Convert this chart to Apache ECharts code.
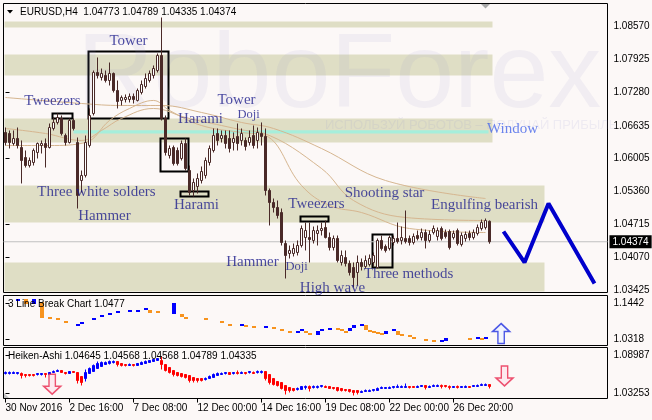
<!DOCTYPE html>
<html><head><meta charset="utf-8">
<script src="https://cdn.jsdelivr.net/npm/echarts@6/dist/echarts.min.js"></script>
<style>html,body{margin:0;padding:0;background:#FCF8F7;}#c{width:652px;height:420px;}</style>
</head><body><div id="c"></div>
<script>
// ---- main EURUSD H4 candles ----
const opens=[1.06504,1.06484,1.06289,1.06387,1.06211,1.06016,1.05860,1.05919,1.06114,1.06250,
1.06289,1.06211,1.06582,1.06699,1.06777,1.06445,1.06309,1.06738,1.06309,1.05568,
1.05666,1.06250,1.06874,1.07673,1.07576,1.07615,1.07517,1.07654,1.07322,1.07128,
1.07147,1.07147,1.07206,1.07128,1.07283,1.07400,1.07517,1.07615,1.07712,1.08005,
1.06777,1.06055,1.06211,1.06153,1.05997,1.06289,1.05763,1.05373,1.05451,1.05568,
1.05666,1.05919,1.06153,1.06484,1.06387,1.06445,1.06387,1.06309,1.06426,1.06348,
1.06348,1.06309,1.06445,1.06348,1.06484,1.06426,1.05373,1.05139,1.05042,1.04944,
1.04340,1.04145,1.04145,1.04165,1.04301,1.04457,1.04457,1.04399,1.04535,1.04593,
1.04652,1.04457,1.04262,1.04438,1.03970,1.04067,1.03950,1.03872,1.03775,1.03970,
1.03892,1.03931,1.03970,1.03872,1.04399,1.04282,1.04243,1.04360,1.04438,1.04399,
1.04438,1.04438,1.04360,1.04496,1.04457,1.04554,1.04399,1.04554,1.04477,1.04632,
1.04554,1.04574,1.04457,1.04593,1.04321,1.04438,1.04535,1.04457,1.04535,1.04632,
1.04652,1.04773];
const closes=[1.06309,1.06309,1.06387,1.06250,1.05958,1.05860,1.05958,1.06153,1.06289,1.06289,
1.06211,1.06601,1.06699,1.06796,1.06484,1.06309,1.06738,1.06582,1.05276,1.05666,
1.06309,1.06835,1.07673,1.07615,1.07654,1.07517,1.07654,1.07322,1.07108,1.07186,
1.07186,1.07206,1.07147,1.07322,1.07439,1.07556,1.07654,1.07751,1.08005,1.06777,
1.06114,1.06192,1.05899,1.05899,1.06289,1.05802,1.05334,1.05529,1.05607,1.05743,
1.05958,1.06192,1.06445,1.06348,1.06445,1.06289,1.06192,1.06387,1.06289,1.06484,
1.06231,1.06406,1.06250,1.06504,1.06426,1.05373,1.05139,1.05042,1.04886,1.04360,
1.04106,1.04204,1.04243,1.04301,1.04632,1.04593,1.04418,1.04593,1.04593,1.04632,
1.04457,1.04262,1.04438,1.04009,1.04106,1.03950,1.03775,1.03677,1.03970,1.03892,
1.04009,1.04048,1.04106,1.04399,1.04243,1.04204,1.04457,1.04438,1.04379,1.04457,
1.04379,1.04360,1.04477,1.04438,1.04554,1.04399,1.04516,1.04632,1.04593,1.04438,
1.04477,1.04262,1.04535,1.04340,1.04496,1.04516,1.04457,1.04554,1.04652,1.04749,
1.04788,1.04374];
const lows=[1.06250,1.06192,1.06250,1.06192,1.05510,1.05821,1.05821,1.05860,1.05997,1.06094,
1.05821,1.06192,1.06543,1.06660,1.06445,1.06250,1.06289,1.06543,1.05022,1.05334,
1.05627,1.06211,1.06835,1.07556,1.07517,1.07478,1.07420,1.07283,1.06972,1.07030,
1.07089,1.07089,1.07069,1.07108,1.07245,1.07361,1.07478,1.07556,1.07673,1.06738,
1.06055,1.05997,1.05860,1.05860,1.05958,1.05763,1.05276,1.05256,1.05315,1.05510,
1.05607,1.05860,1.06114,1.06250,1.06309,1.06192,1.06114,1.06153,1.06153,1.06250,
1.06153,1.06250,1.06192,1.06192,1.06250,1.05276,1.04691,1.04944,1.04827,1.04301,
1.03658,1.04048,1.04087,1.04106,1.04262,1.04204,1.03970,1.04340,1.04301,1.04496,
1.04438,1.04204,1.04204,1.03970,1.03911,1.03892,1.03716,1.03482,1.03521,1.03814,
1.03853,1.03892,1.03892,1.03853,1.04204,1.04165,1.04204,1.04301,1.04340,1.04321,
1.04340,1.04301,1.04321,1.04399,1.04399,1.04243,1.04360,1.04516,1.04399,1.04399,
1.04438,1.04223,1.04418,1.04301,1.04282,1.04379,1.04399,1.04418,1.04496,1.04593,
1.04613,1.04335];
const highs=[1.06601,1.06543,1.06543,1.06601,1.06348,1.06153,1.06016,1.06192,1.06309,1.06348,
1.06387,1.06679,1.06796,1.06874,1.06835,1.06484,1.06777,1.06777,1.06406,1.05763,
1.06445,1.06972,1.07712,1.07966,1.07751,1.07712,1.07868,1.07673,1.07517,1.07225,
1.07245,1.07264,1.07264,1.07361,1.07517,1.07654,1.07712,1.07810,1.08044,1.08745,
1.06835,1.06250,1.06250,1.06211,1.06348,1.06387,1.05860,1.05607,1.05705,1.05841,
1.06016,1.06250,1.06582,1.06582,1.06543,1.06543,1.06543,1.06504,1.06679,1.06582,
1.06406,1.06543,1.06640,1.06601,1.06699,1.06582,1.05412,1.05217,1.05178,1.05022,
1.04399,1.04301,1.04340,1.04399,1.04691,1.04749,1.04749,1.04671,1.04691,1.04749,
1.04788,1.04554,1.04496,1.04496,1.04204,1.04204,1.04009,1.03970,1.04106,1.04048,
1.04106,1.04126,1.04165,1.04438,1.04496,1.04321,1.04496,1.04496,1.04749,1.04671,
1.04983,1.04496,1.04535,1.04593,1.04632,1.04613,1.04593,1.04691,1.04652,1.04671,
1.04613,1.04613,1.04593,1.04632,1.04554,1.04574,1.04593,1.04613,1.04710,1.04808,
1.04827,1.04789];

// ---- moving averages (read at sample bars) ----
const maSlowBar=[0,19,29,39,49,59,67,79,95,120];
const maSlowVal=[1.07186,1.07069,1.07030,1.07030,1.06894,1.06699,1.06582,1.06192,1.05568,1.05217];
const maMidBar=[0,10,19,24,29,37,45,54,60,64,79,87,100,120];
const maMidVal=[1.06582,1.06484,1.06348,1.06543,1.06777,1.06972,1.06796,1.06640,1.06543,1.06504,1.05802,1.05178,1.04847,1.04788];
const maFastBar=[0,11,20,26,31,37,41,49,59,65,74,81,89,101,120];
const maFastVal=[1.06250,1.06250,1.06309,1.06738,1.06972,1.07128,1.06933,1.06640,1.06504,1.06445,1.05471,1.05081,1.04944,1.04632,1.04554];

// ---- zones, window gap, pattern boxes ----
const zoneTop=[1.08667,1.08024,1.06777,1.05471,1.03970];
const zoneBottom=[1.08550,1.07615,1.06309,1.04749,1.03404];
const zoneEnd=[121.75,121.75,121.75,134.75,134.75];
const windowFrom=17, windowTo=120.75, windowTop=1.06549, windowBottom=1.06484;
const boxFrom=[20.75,11.75,38.75,43.75,73.75,91.75];
const boxTo=[40.75,16.75,45.75,50.75,80.75,96.75];
const boxTop=[1.08083,1.06874,1.06387,1.05354,1.04866,1.04516];
const boxBottom=[1.06777,1.06777,1.05743,1.05256,1.04769,1.03872];

// ---- pattern notes ----
const noteText=['Tower','Tweezers','Harami','Tower','Doji','Window','Three white solders','Hammer','Harami','Tweezers','Shooting star','Engulfing bearish','Hammer','Doji','High wave','Three methods'];
const noteBar=[30.75,11.75,48.75,57.75,60.75,126.75,22.75,24.75,47.75,77.75,94.75,119.75,61.75,72.75,81.75,100.75];
const notePrice=[1.08278,1.07108,1.06757,1.07128,1.06855,1.06562,1.05334,1.04866,1.05081,1.05100,1.05315,1.05081,1.03970,1.03892,1.03473,1.03736];

// ---- forecast zigzag ----
const fcBar=[124.5,129.75,135.75,147.25];
const fcPrice=[1.04574,1.03970,1.05120,1.03560];

// ---- 3 Line Break marks ----
const lbBlueBar=[3,7,18,19,22,24,26,28,31,33,35,42,59,65,73,74,78,79,81,86,87,89,95,97,109,110,118,120];
const lbBlueTop=[1.15566,1.15566,1.08134,1.08444,1.09683,1.10612,1.11231,1.11850,1.12160,1.12160,1.12779,1.14327,1.07825,1.07206,1.05658,1.06277,1.05658,1.06277,1.06586,1.06586,1.07515,1.08134,1.05658,1.06277,1.02871,1.03490,1.03800,1.03800];
const lbBlueBot=[1.14946,1.14017,1.07515,1.07825,1.09063,1.09992,1.10612,1.11231,1.11540,1.11540,1.12160,1.10921,1.07206,1.06586,1.05038,1.05658,1.04419,1.05658,1.05967,1.05658,1.06586,1.07515,1.04729,1.05658,1.02252,1.02562,1.03181,1.03181];
const lbOrangeBar=[5,9,11,13,15,36,38,44,45,50,54,56,60,62,67,69,71,75,76,83,84,85,90,91,92,93,94,98,99,101,102,105,107,116,119];
const lbOrangeTop=[1.15566,1.14946,1.09992,1.09683,1.09063,1.12469,1.11850,1.10921,1.09992,1.09683,1.08754,1.08134,1.07515,1.07206,1.06896,1.06277,1.05658,1.05658,1.05038,1.06586,1.06277,1.05658,1.07515,1.05967,1.05658,1.05348,1.05038,1.05658,1.04729,1.04419,1.03800,1.03181,1.02871,1.03490,1.03490];
const lbOrangeBot=[1.14017,1.09992,1.09373,1.09063,1.08444,1.11540,1.11231,1.09992,1.09373,1.09063,1.08134,1.07515,1.06896,1.06586,1.06277,1.05658,1.05038,1.05038,1.04419,1.05967,1.05658,1.05038,1.05967,1.05348,1.05038,1.04729,1.04419,1.04419,1.04110,1.03800,1.03181,1.02562,1.02252,1.02871,1.02871];
const upArrowBar=[123.9], upArrowVal=[1.0504];

// ---- Heiken-Ashi ----
const haOpen=[1.06165,1.06165,1.06165,1.06165,1.06165,1.06014,1.06014,1.06014,1.06014,1.06014,
1.06165,1.06014,1.06316,1.06467,1.06618,1.06316,1.06165,1.06467,1.06316,1.05713,
1.05411,1.06165,1.06467,1.06920,1.07221,1.07523,1.07674,1.07825,1.07976,1.07674,
1.07523,1.07372,1.07523,1.07372,1.07523,1.07674,1.07825,1.07976,1.08127,1.08127,
1.07523,1.07071,1.06618,1.06316,1.06165,1.06014,1.05863,1.05562,1.05411,1.05411,
1.05260,1.05411,1.05562,1.05863,1.06014,1.06165,1.06316,1.06165,1.06316,1.06165,
1.06316,1.06316,1.06316,1.06316,1.06316,1.06467,1.06014,1.05411,1.04958,1.04807,
1.04355,1.04053,1.03902,1.03751,1.03751,1.04053,1.04204,1.04053,1.04053,1.04204,
1.04204,1.04204,1.04053,1.04053,1.03902,1.03751,1.03751,1.03600,1.03600,1.03298,
1.03449,1.03449,1.03600,1.03600,1.03902,1.03902,1.03902,1.04053,1.04053,1.04053,
1.04053,1.04204,1.04204,1.04053,1.04204,1.04355,1.04053,1.04204,1.04204,1.04355,
1.04355,1.04204,1.04053,1.04204,1.04053,1.04053,1.04204,1.04204,1.04204,1.04355,
1.04355,1.04505];
const haClose=[1.06316,1.06316,1.06316,1.06316,1.05863,1.05863,1.05863,1.05863,1.06165,1.06165,
1.06014,1.06316,1.06467,1.06618,1.06316,1.06165,1.06467,1.06316,1.05109,1.04807,
1.06316,1.06920,1.07372,1.07674,1.07825,1.07825,1.07976,1.07976,1.07523,1.07372,
1.07372,1.07523,1.07372,1.07674,1.07825,1.07976,1.08127,1.08278,1.08429,1.07523,
1.06618,1.06316,1.06014,1.05863,1.05713,1.05562,1.05109,1.05109,1.05109,1.05109,
1.05411,1.05713,1.06014,1.06165,1.06165,1.06316,1.06014,1.06316,1.06165,1.06316,
1.06165,1.06467,1.06165,1.06467,1.06467,1.05411,1.04807,1.04505,1.04355,1.03902,
1.03600,1.03600,1.03600,1.03902,1.04204,1.04204,1.03902,1.04204,1.04204,1.04355,
1.04053,1.03902,1.03902,1.03600,1.03600,1.03600,1.03449,1.03298,1.03298,1.03449,
1.03600,1.03600,1.03751,1.03902,1.04053,1.04053,1.04053,1.04204,1.04204,1.04204,
1.04204,1.04053,1.04053,1.04204,1.04355,1.04053,1.04204,1.04355,1.04355,1.04204,
1.04204,1.04053,1.04204,1.04053,1.04204,1.04204,1.04053,1.04355,1.04355,1.04505,
1.04505,1.04204];
const haLow=[1.06014,1.06014,1.06165,1.06014,1.05411,1.05562,1.05713,1.05713,1.05863,1.05863,
1.05562,1.06014,1.06316,1.06467,1.06316,1.06014,1.06165,1.06316,1.04656,1.04355,
1.04958,1.06165,1.06467,1.06920,1.07221,1.07523,1.07523,1.07674,1.07221,1.07221,
1.07221,1.07372,1.07221,1.07372,1.07523,1.07674,1.07825,1.07976,1.08127,1.06769,
1.06467,1.06165,1.05713,1.05713,1.05562,1.05411,1.04807,1.04807,1.04807,1.04958,
1.05109,1.05411,1.05562,1.05863,1.06014,1.06014,1.06014,1.06014,1.06014,1.06165,
1.06014,1.06165,1.06165,1.06165,1.06165,1.05109,1.04505,1.04355,1.04204,1.03751,
1.02997,1.03298,1.03449,1.03600,1.03751,1.03751,1.03449,1.03902,1.03902,1.04053,
1.04053,1.03902,1.03751,1.03449,1.03449,1.03449,1.03298,1.02846,1.02997,1.03298,
1.03449,1.03449,1.03449,1.03600,1.03902,1.03902,1.03902,1.03902,1.04053,1.04053,
1.04053,1.03902,1.04053,1.04053,1.04204,1.03751,1.04053,1.04204,1.04204,1.03902,
1.04053,1.03751,1.04053,1.03902,1.04053,1.04053,1.04053,1.04204,1.04204,1.04355,
1.04355,1.03902];
const haHigh=[1.06467,1.06467,1.06467,1.06316,1.06316,1.06014,1.06014,1.06014,1.06165,1.06165,
1.06165,1.06316,1.06618,1.06769,1.06618,1.06316,1.06467,1.06467,1.06316,1.05713,
1.06769,1.07071,1.07523,1.07976,1.07976,1.07976,1.08127,1.08127,1.07976,1.07674,
1.07523,1.07674,1.07523,1.07674,1.07976,1.08127,1.08127,1.08278,1.08429,1.08731,
1.07523,1.07071,1.06618,1.06316,1.06165,1.06014,1.05863,1.05562,1.05411,1.05411,
1.05562,1.05863,1.06165,1.06316,1.06316,1.06316,1.06316,1.06316,1.06618,1.06467,
1.06316,1.06467,1.06467,1.06618,1.06618,1.06467,1.06014,1.05411,1.04958,1.04807,
1.04355,1.04053,1.03902,1.04053,1.04204,1.04355,1.04355,1.04355,1.04355,1.04355,
1.04355,1.04204,1.04053,1.04053,1.03902,1.03751,1.03751,1.03600,1.03600,1.03600,
1.03751,1.03751,1.03751,1.04053,1.04204,1.04053,1.04204,1.04204,1.04505,1.04355,
1.04656,1.04204,1.04204,1.04355,1.04355,1.04355,1.04355,1.04505,1.04505,1.04505,
1.04355,1.04355,1.04204,1.04355,1.04204,1.04355,1.04204,1.04355,1.04505,1.04656,
1.04656,1.04505];
const downArrowBar=[11.67,124.75], downArrowVal=[1.04551,1.05788];

// ---- axes ticks / labels ----
const mainTicks=[1.08570,1.07925,1.07280,1.06635,1.06005,1.05360,1.04715,1.04070,1.03425];
const lbTicks=[1.1442,1.0318];
const haTicks=[1.08987,1.03253];
const timeLabels=['30 Nov 2016','2 Dec 16:00','7 Dec 08:00','12 Dec 00:00','14 Dec 16:00','19 Dec 08:00','22 Dec 00:00','26 Dec 20:00'];
const timeLabelBars=[0,16,32,48,64,80,96,112];

// ---- build ----
const SLOTS=151;
const cats=[];for(let i=0;i<SLOTS;i++)cats.push(String(i));
const labelMap=new Map(timeLabelBars.map((b,i)=>[b,timeLabels[i]]));
const candleData=opens.map((o,i)=>[o,closes[i],lows[i],highs[i]]);
const haData=haOpen.map((o,i)=>[o,haClose[i],haLow[i],haHigh[i]]);
const lastClose=closes[closes.length-1];
const FONT='"Liberation Sans", Arial, sans-serif';
const SERIF='"Liberation Serif", "Times New Roman", serif';
const NAVY='#1E1E8C';

function lbRender(color){
  return function(params,api){
    const x=api.value(0);
    const a=api.coord([x,api.value(1)]);
    const b=api.coord([x,api.value(2)]);
    const w=api.size([1,0])[0];
    const top=Math.min(a[1],b[1]);
    const h=Math.max(2,Math.abs(b[1]-a[1]));
    return {type:'rect',shape:{x:Math.round(a[0]-w/2),y:Math.round(top),width:Math.round(w),height:Math.round(h)},style:{fill:color}};
  };
}
const zoneAreas=zoneTop.map((t,i)=>[{coord:[-0.25,t]},{coord:[zoneEnd[i],zoneBottom[i]]}]);
zoneAreas.push([{coord:[windowFrom,windowTop],itemStyle:{color:'#A6EEDB'}},{coord:[windowTo,windowBottom]}]);
const boxAreas=boxFrom.map((f,i)=>[{coord:[f,boxTop[i]]},{coord:[boxTo[i],boxBottom[i]]}]);
const noteData=noteText.map((t,i)=>{
  const d={name:t,value:[noteBar[i],notePrice[i]]};
  if(t==='Doji')d.label={fontSize:12.5};
  if(t==='Window')d.label={color:'#4666EA'};
  return d;
});
const gridBase={show:true,borderColor:'#000',borderWidth:1,backgroundColor:'transparent',containLabel:false,outerBoundsMode:'none'};
const hiddenCat=(g)=>({type:'category',gridIndex:g,data:cats,boundaryGap:true,axisLine:{show:false},axisTick:{show:false},axisLabel:{show:false},splitLine:{show:false}});
const hiddenVal=(g)=>({type:'value',gridIndex:g,min:-0.5,max:150.5,show:false});
function yAx(g,min,max,ticks,dec){
  return {type:'value',gridIndex:g,position:'right',min:min,max:max,scale:true,splitLine:{show:false},axisLine:{show:false},
    axisTick:{show:true,length:4,inside:false,customValues:ticks,lineStyle:{color:'#000'}},
    axisLabel:{show:true,customValues:ticks,formatter:v=>Number(v).toFixed(dec),fontSize:10,color:'#000',fontFamily:FONT,margin:6}};
}
const tickShow=(i)=>labelMap.has(i);

const option={
  backgroundColor:'#FCF8F7',
  animation:false,
  grid:[
    Object.assign({left:3.5,top:3.5,width:604,height:289},gridBase),
    Object.assign({left:3.5,top:295.5,width:604,height:50},gridBase),
    Object.assign({left:3.5,top:347.5,width:604,height:51},gridBase)
  ],
  xAxis:[
    hiddenCat(0),
    hiddenVal(0),
    hiddenVal(1),
    {type:'category',gridIndex:2,data:cats,boundaryGap:true,axisLine:{show:false},splitLine:{show:false},
      axisTick:{show:true,alignWithLabel:true,interval:tickShow,length:4,lineStyle:{color:'#000'}},
      axisLabel:{show:true,interval:tickShow,formatter:(v)=>labelMap.get(Number(v))||'',align:'left',color:'#000',fontSize:10,fontFamily:FONT,margin:5}},
    hiddenVal(2)
  ],
  yAxis:[
    yAx(0,1.03385,1.09018,mainTicks,5),
    yAx(1,1.01322,1.16804,lbTicks,4),
    yAx(2,1.02393,1.10088,haTicks,5)
  ],
  graphic:[
    {type:'text',x:77,y:78,z:2,silent:true,style:{text:'RoboForex',font:'106px '+FONT,fill:'rgba(150,150,205,0.1)',textAlign:'left',align:'left',textVerticalAlign:'middle',verticalAlign:'middle'}},
    {type:'text',x:325,y:125,z:2,silent:true,style:{text:'ИСПОЛЬЗУЙ РОБОТОВ – ПОЛУЧАЙ ПРИБЫЛЬ',font:'13px '+FONT,fill:'rgba(150,150,205,0.13)',textAlign:'left',align:'left',textVerticalAlign:'middle',verticalAlign:'middle'}},
    {type:'polygon',z:10,silent:true,shape:{points:[[7,10],[13,10],[10,13.5]]},style:{fill:'#000'}},
    {type:'text',x:20,y:12,z:10,silent:true,style:{text:'EURUSD,H4  1.04773 1.04789 1.04335 1.04374',font:'10px '+FONT,fill:'#000',textAlign:'left',align:'left',textVerticalAlign:'middle',verticalAlign:'middle'}},
    {type:'polygon',z:10,silent:true,shape:{points:[[481,4],[490,4],[485.5,8.5]]},style:{fill:'#A8A8A8'}},
    {type:'text',x:8,y:304.5,z:10,silent:true,style:{text:'3 Line Break Chart 1.0477',font:'10px '+FONT,fill:'#000',textAlign:'left',align:'left',textVerticalAlign:'middle',verticalAlign:'middle'}},
    {type:'text',x:8,y:356.5,z:10,silent:true,style:{text:'Heiken-Ashi 1.04645 1.04568 1.04568 1.04789 1.04335',font:'10px '+FONT,fill:'#000',textAlign:'left',align:'left',textVerticalAlign:'middle',verticalAlign:'middle'}},
    {type:'polygon',z:10,silent:true,shape:{points:[[4,398],[9,398],[4,393]]},style:{fill:'#C4C4C4'}}
  ],
  series:[
    {type:'line',xAxisIndex:1,yAxisIndex:0,data:[],z:1,silent:true,
      markArea:{silent:true,itemStyle:{color:'#DFDEC5'},data:zoneAreas}},
    {type:'line',xAxisIndex:1,yAxisIndex:0,z:2,silent:true,symbol:'none',
      lineStyle:{color:'#C0C0C0',width:1},
      data:[[-0.5,lastClose],[150.5,lastClose]],
      endLabel:{show:true,formatter:lastClose.toFixed(5),color:'#fff',backgroundColor:'#000',padding:[2,3,1,3],fontSize:10,fontFamily:FONT,distance:2}},
    {type:'line',xAxisIndex:1,yAxisIndex:0,z:3,silent:true,smooth:0.4,symbol:'none',lineStyle:{color:'#D6B690',width:1},data:maSlowBar.map((b,i)=>[b,maSlowVal[i]])},
    {type:'line',xAxisIndex:1,yAxisIndex:0,z:3,silent:true,smooth:0.4,symbol:'none',lineStyle:{color:'#D6B690',width:1},data:maMidBar.map((b,i)=>[b,maMidVal[i]])},
    {type:'line',xAxisIndex:1,yAxisIndex:0,z:3,silent:true,smooth:0.4,symbol:'none',lineStyle:{color:'#D6B690',width:1},data:maFastBar.map((b,i)=>[b,maFastVal[i]])},
    {type:'candlestick',xAxisIndex:0,yAxisIndex:0,z:4,silent:true,barWidth:3,data:candleData,
      itemStyle:{color:'#FFFFFF',color0:'#4A2A28',borderColor:'#4A2A28',borderColor0:'#4A2A28',borderColorDoji:'#4A2A28',borderWidth:1}},
    {type:'line',xAxisIndex:1,yAxisIndex:0,data:[],z:5,silent:true,
      markArea:{silent:true,itemStyle:{color:'rgba(0,0,0,0)',borderColor:'#000',borderWidth:2},data:boxAreas}},
    {type:'line',xAxisIndex:1,yAxisIndex:0,z:6,silent:true,symbol:'none',lineStyle:{color:'#0000CC',width:4},data:fcBar.map((b,i)=>[b,fcPrice[i]])},
    {type:'scatter',xAxisIndex:1,yAxisIndex:0,z:7,silent:true,symbolSize:0,data:noteData,
      label:{show:true,position:'inside',formatter:p=>p.name,fontFamily:SERIF,fontSize:15,color:NAVY}},
    {type:'custom',xAxisIndex:2,yAxisIndex:1,z:3,silent:true,renderItem:lbRender('#0000FF'),encode:{x:0,y:[1,2]},
      data:lbBlueBar.map((b,i)=>[b,lbBlueTop[i],lbBlueBot[i]])},
    {type:'custom',xAxisIndex:2,yAxisIndex:1,z:3,silent:true,renderItem:lbRender('#F7931E'),encode:{x:0,y:[1,2]},
      data:lbOrangeBar.map((b,i)=>[b,lbOrangeTop[i],lbOrangeBot[i]])},
    {type:'scatter',xAxisIndex:2,yAxisIndex:1,z:5,silent:true,symbol:'path://M8,0 L16,8 L11,8 L11,20 L5,20 L5,8 L0,8 Z',symbolSize:[17,20],
      itemStyle:{color:'#EEF2FF',borderColor:'#2030E0',borderWidth:1.5},data:upArrowBar.map((b,i)=>[b,upArrowVal[i]])},
    {type:'candlestick',xAxisIndex:3,yAxisIndex:2,z:4,silent:true,barWidth:3,data:haData,
      itemStyle:{color:'#0000FF',color0:'#FF0000',borderColor:'#0000FF',borderColor0:'#FF0000',borderWidth:1}},
    {type:'scatter',xAxisIndex:4,yAxisIndex:2,z:5,silent:true,symbol:'path://M5,0 L11,0 L11,12 L16,12 L8,20 L0,12 L5,12 Z',symbolSize:[17,20],
      itemStyle:{color:'#FDE6EC',borderColor:'#E8284E',borderWidth:1.5},data:downArrowBar.map((b,i)=>[b,downArrowVal[i]])}
  ]
};
const chart=echarts.init(document.getElementById('c'),null,{renderer:'canvas'});
chart.setOption(option);
</script></body></html>
